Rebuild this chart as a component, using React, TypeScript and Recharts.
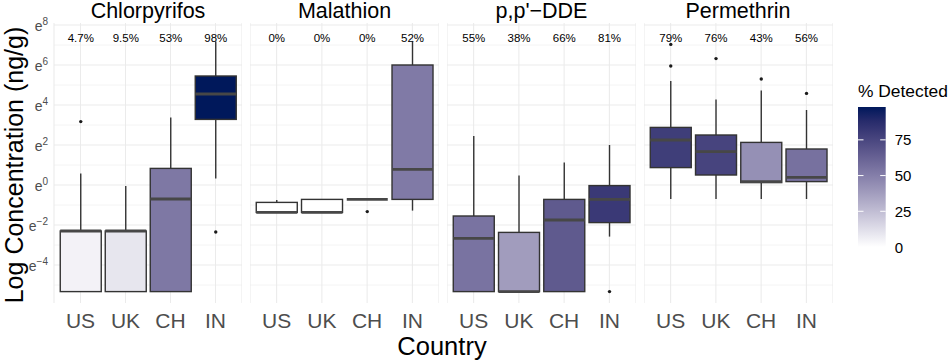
import React from 'react';
import { ComposedChart, Bar, XAxis, YAxis, CartesianGrid } from 'recharts';

// box stats per country: [lower whisker, q1, median, q3, upper whisker] (natural log of ng/g)
const countries = ['US', 'UK', 'CH', 'IN'];

const chlorpyrifosBoxes = [
  [-5.33, -5.33, -2.3, -2.3, 0.58],
  [-5.33, -5.33, -2.3, -2.3, -0.05],
  [-5.33, -5.33, -0.7, 0.83, 3.38],
  [0.33, 3.28, 4.55, 5.45, 7.17],
];
const chlorpyrifosOutliers = [[3.17], [], [], [-2.35]];
const chlorpyrifosPct = [4.7, 9.5, 53, 98];

const malathionBoxes = [
  [-1.37, -1.37, -1.37, -0.87, -0.75],
  [-1.37, -1.37, -1.37, -0.72, -0.72],
  [-0.72, -0.72, -0.72, -0.72, -0.72],
  [-1.28, -0.72, 0.78, 6.0, 7.17],
];
const malathionOutliers = [[], [], [-1.33], []];
const malathionPct = [0, 0, 0, 52];

const ddeBoxes = [
  [-5.33, -5.33, -2.67, -1.55, 2.45],
  [-5.33, -5.33, -5.33, -2.37, 0.47],
  [-5.33, -5.33, -1.75, -0.72, 1.12],
  [-2.58, -1.88, -0.72, -0.03, 2.0],
];
const ddeOutliers = [[], [], [], [-5.33]];
const ddePct = [55, 38, 66, 81];

const permethrinBoxes = [
  [-0.7, 0.87, 2.25, 2.88, 5.2],
  [-0.7, 0.5, 1.67, 2.5, 4.28],
  [-0.7, 0.12, 0.17, 2.13, 4.72],
  [-0.7, 0.17, 0.38, 1.8, 3.75],
];
const permethrinOutliers = [[5.95, 7.03], [6.32], [5.3], [4.58]];
const permethrinPct = [79, 76, 43, 56];

const majorTicks = [-4, -2, 0, 2, 4, 6, 8];
const minorTicks = [-5, -3, -1, 1, 3, 5, 7];
const legendTicks = [0, 25, 50, 75];
const LABEL_LEVEL = 7.35; // y value where the % labels sit
const Y_DOMAIN: [number, number] = [-5.9, 8.1];

const FONT = '"Liberation Sans", Arial, sans-serif';
const HIGH = '#00185B';
const PCT_MAX = Math.max(...chlorpyrifosPct, ...malathionPct, ...ddePct, ...permethrinPct);

// --- colour: white -> navy, interpolated in Lab like ggplot
const toLin = (c: number) => {
  c /= 255;
  return c <= 0.04045 ? c / 12.92 : Math.pow((c + 0.055) / 1.055, 2.4);
};
const fromLin = (c: number) => {
  const v = c <= 0.0031308 ? 12.92 * c : 1.055 * Math.pow(c, 1 / 2.4) - 0.055;
  return Math.round(Math.max(0, Math.min(1, v)) * 255);
};
const D = 6 / 29;
const f = (t: number) => (t > D * D * D ? Math.cbrt(t) : t / (3 * D * D) + 4 / 29);
const finv = (t: number) => (t > D ? t * t * t : 3 * D * D * (t - 4 / 29));

function hexToLab(hex: string) {
  const n = parseInt(hex.slice(1), 16);
  const r = toLin((n >> 16) & 255), g = toLin((n >> 8) & 255), b = toLin(n & 255);
  const X = (0.4124 * r + 0.3576 * g + 0.1805 * b) / 0.95047;
  const Y = 0.2126 * r + 0.7152 * g + 0.0722 * b;
  const Z = (0.0193 * r + 0.1192 * g + 0.9505 * b) / 1.08883;
  return [116 * f(Y) - 16, 500 * (f(X) - f(Y)), 200 * (f(Y) - f(Z))];
}
function labToHex([L, a, bb]: number[]) {
  const fy = (L + 16) / 116;
  const X = 0.95047 * finv(fy + a / 500), Y = finv(fy), Z = 1.08883 * finv(fy - bb / 200);
  const r = 3.2406 * X - 1.5372 * Y - 0.4986 * Z;
  const g = -0.9689 * X + 1.8758 * Y + 0.0415 * Z;
  const b = 0.0557 * X - 0.204 * Y + 1.057 * Z;
  return '#' + [r, g, b].map((c) => fromLin(c).toString(16).padStart(2, '0')).join('');
}
const lowLab = hexToLab('#FFFFFF');
const highLab = hexToLab(HIGH);
const fillFor = (pct: number) => {
  const t = pct / PCT_MAX;
  return labToHex(lowLab.map((v, i) => v + (highLab[i] - v) * t));
};

function buildRows(boxes: number[][], outliers: number[][], pct: number[]) {
  return countries.map((country, i) => {
    const all = [...boxes[i], ...outliers[i]];
    return {
      country,
      range: [Math.min(...all), Math.max(...all)],
      stats: boxes[i],
      outliers: outliers[i],
      pct: pct[i],
    };
  });
}

const panels = [
  { title: 'Chlorpyrifos', rows: buildRows(chlorpyrifosBoxes, chlorpyrifosOutliers, chlorpyrifosPct) },
  { title: 'Malathion', rows: buildRows(malathionBoxes, malathionOutliers, malathionPct) },
  { title: "p,p'\u2212DDE", rows: buildRows(ddeBoxes, ddeOutliers, ddePct) },
  { title: 'Permethrin', rows: buildRows(permethrinBoxes, permethrinOutliers, permethrinPct) },
];

// the bar spans [min, max] of everything drawn, so other values map linearly inside it
const BoxShape = (props: any) => {
  const { x, y, width, height, payload } = props;
  const [a, b] = payload.range;
  const toY = (v: number) => (b === a ? y : y + ((b - v) / (b - a)) * height);
  const [lo, q1, med, q3, hi] = payload.stats;
  const cx = x + width / 2;
  return (
    <g>
      <line x1={cx} x2={cx} y1={toY(hi)} y2={toY(q3)} stroke="#333" strokeWidth={1.4} />
      <line x1={cx} x2={cx} y1={toY(q1)} y2={toY(lo)} stroke="#333" strokeWidth={1.4} />
      <rect x={x} y={toY(q3)} width={width} height={toY(q1) - toY(q3)} fill={fillFor(payload.pct)} stroke="#333" strokeWidth={1.4} />
      <line x1={x} x2={x + width} y1={toY(med)} y2={toY(med)} stroke="#474747" strokeWidth={2.8} />
      {payload.outliers.map((v: number, i: number) => (
        <circle key={i} cx={cx} cy={toY(v)} r={1.7} fill="#1a1a1a" />
      ))}
      <text x={cx} y={toY(LABEL_LEVEL)} dy={4} textAnchor="middle" fontSize={11.5} fontFamily={FONT} fill="#000">
        {payload.pct}%
      </text>
    </g>
  );
};

const gridAt = (vals: number[]) => (p: any) => {
  const s = p.yAxis && p.yAxis.scale;
  if (typeof s === 'function') return vals.map((v) => s(v));
  const { top, height } = p.offset;
  return vals.map((v) => top + ((Y_DOMAIN[1] - v) / (Y_DOMAIN[1] - Y_DOMAIN[0])) * height);
};

const YTick = ({ x, y, payload }: any) => {
  const v = payload.value;
  return (
    <text x={x} y={y} dy={5.5} textAnchor="end" fill="#4d4d4d" fontFamily={FONT} fontSize={14}>
      <tspan>e</tspan>
      <tspan dy={-5.5} fontSize={10}>{v < 0 ? '\u2212' + Math.abs(v) : v}</tspan>
    </text>
  );
};

const XTick = ({ x, y, payload }: any) => (
  <text x={x} y={y} dy={25} textAnchor="middle" fill="#4d4d4d" fontFamily={FONT} fontSize={21}>
    {payload.value}
  </text>
);

const Panel = ({ rows, withAxis }: { rows: any[]; withAxis: boolean }) => (
  <ComposedChart
    width={withAxis ? 242 : 189}
    height={340}
    data={rows}
    margin={{ top: 23, right: 0, bottom: 0, left: 0 }}
    barCategoryGap="5%"
  >
    <CartesianGrid stroke="#ebebeb" strokeWidth={1.07} horizontalCoordinatesGenerator={gridAt(majorTicks)} />
    <CartesianGrid stroke="#ebebeb" strokeWidth={0.55} vertical={false} horizontalCoordinatesGenerator={gridAt(minorTicks)} />
    <XAxis
      dataKey="country"
      axisLine={false}
      tickLine={false}
      tickSize={0}
      tickMargin={0}
      height={37}
      interval={0}
      padding={{ left: 4, right: 4 }}
      tick={<XTick />}
    />
    <YAxis
      type="number"
      domain={Y_DOMAIN}
      ticks={majorTicks}
      hide={!withAxis}
      width={54}
      axisLine={false}
      tickLine={false}
      tickSize={0}
      tickMargin={6}
      tick={<YTick />}
    />
    <Bar dataKey="range" shape={<BoxShape />} isAnimationActive={false} />
  </ComposedChart>
);

const panelLefts = [0, 250, 447, 643.5];
const panelCenters = [148, 344.5, 541.5, 738];

// legend bar geometry
const LEG_X = 858;
const LEG_W = 27.7;
const LEG_BOTTOM = 247;
const LEG_TOP = 107;
const legY = (v: number) => LEG_BOTTOM - (v / PCT_MAX) * (LEG_BOTTOM - LEG_TOP);
const gradStops = Array.from({ length: 11 }, (_, i) => i / 10);

export default function App() {
  return (
    <div style={{ position: 'absolute', left: 0, top: 0, width: 948, height: 360, background: '#fff', fontFamily: FONT }}>
      {panels.map((p, i) => (
        <div key={p.title} style={{ position: 'absolute', left: panelLefts[i], top: 0 }}>
          <Panel rows={p.rows} withAxis={i === 0} />
        </div>
      ))}
      <svg width={948} height={360} style={{ position: 'absolute', left: 0, top: 0, pointerEvents: 'none' }}>
        <defs>
          <linearGradient id="pctGrad" x1="0" y1="1" x2="0" y2="0">
            {gradStops.map((t) => (
              <stop key={t} offset={t} stopColor={fillFor(t * PCT_MAX)} />
            ))}
          </linearGradient>
        </defs>
        {panels.map((p, i) => (
          <text key={p.title} x={panelCenters[i]} y={18} textAnchor="middle" fontSize={21.5} fontFamily={FONT} fill="#000">
            {p.title}
          </text>
        ))}
        <text x={442} y={355} textAnchor="middle" fontSize={25.5} fontFamily={FONT} fill="#000">
          Country
        </text>
        <text transform="translate(23,165) rotate(-90)" textAnchor="middle" fontSize={25} fontFamily={FONT} fill="#000">
          Log Concentration (ng/g)
        </text>
        <text x={LEG_X} y={97} fontSize={17.4} fontFamily={FONT} fill="#000">
          % Detected
        </text>
        <rect x={LEG_X} y={LEG_TOP} width={LEG_W} height={LEG_BOTTOM - LEG_TOP} fill="url(#pctGrad)" />
        {legendTicks.map((v) => (
          <g key={v}>
            {v > 0 && (
              <>
                <line x1={LEG_X} x2={LEG_X + 5.5} y1={legY(v)} y2={legY(v)} stroke="#fff" strokeWidth={1} />
                <line x1={LEG_X + LEG_W - 5.5} x2={LEG_X + LEG_W} y1={legY(v)} y2={legY(v)} stroke="#fff" strokeWidth={1} />
              </>
            )}
            <text x={LEG_X + LEG_W + 9} y={legY(v)} dy={5.5} fontSize={15} fontFamily={FONT} fill="#000">
              {v}
            </text>
          </g>
        ))}
      </svg>
    </div>
  );
}
